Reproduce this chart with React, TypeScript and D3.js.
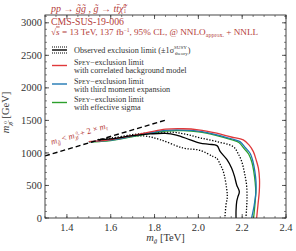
import React from "react";
import * as d3 from "d3";

// exclusion contours, [m_gluino (TeV), m_neutralino (GeV)]
const observed: [number, number][] = [
  [1.54, 1200], [1.6, 1215], [1.7, 1265], [1.78, 1292], [1.85, 1302], [1.9, 1275],
  [1.96, 1205], [2.008, 1150], [2.05, 1133], [2.085, 1112], [2.1, 1020], [2.13, 900],
  [2.152, 765], [2.165, 640], [2.175, 508], [2.187, 405], [2.18, 320], [2.175, 251],
  [2.172, 120], [2.172, 0],
];
const observedUp: [number, number][] = [
  [1.54, 1205], [1.6, 1228], [1.7, 1282], [1.78, 1310], [1.886, 1318], [1.95, 1282],
  [2.008, 1232], [2.084, 1174], [2.159, 1097], [2.18, 1000], [2.198, 866], [2.21, 700],
  [2.22, 508], [2.222, 300], [2.22, 149], [2.217, 0],
];
const observedDown: [number, number][] = [
  [1.55, 1190], [1.65, 1232], [1.75, 1262], [1.825, 1205], [1.931, 1075], [2.008, 1040],
  [2.068, 943], [2.084, 918], [2.1, 820], [2.114, 712], [2.129, 457], [2.132, 320],
  [2.126, 200], [2.121, 0],
];
const speyCorrelated: [number, number][] = [
  [1.5, 1174], [1.55, 1185], [1.6, 1205], [1.7, 1265], [1.78, 1322], [1.85, 1365],
  [1.93, 1372], [2.0, 1356], [2.084, 1303], [2.15, 1245], [2.205, 1200], [2.232, 1120],
  [2.251, 1020], [2.265, 880], [2.274, 765], [2.279, 600], [2.278, 405], [2.272, 200],
  [2.266, 0],
];
const speyThirdMoment: [number, number][] = [
  [1.5, 1172], [1.55, 1180], [1.6, 1196], [1.7, 1258], [1.78, 1308], [1.85, 1347],
  [1.93, 1352], [2.0, 1336], [2.08, 1283], [2.15, 1218], [2.19, 1174], [2.215, 1080],
  [2.236, 995], [2.25, 860], [2.258, 712], [2.263, 560], [2.263, 405], [2.255, 200],
  [2.243, 0],
];
const speyEffSigma: [number, number][] = [
  [1.5, 1170], [1.55, 1176], [1.6, 1190], [1.7, 1250], [1.78, 1300], [1.85, 1337],
  [1.93, 1342], [2.0, 1324], [2.08, 1270], [2.15, 1203], [2.185, 1160], [2.21, 1062],
  [2.23, 980], [2.245, 850], [2.253, 712], [2.259, 560], [2.262, 405], [2.258, 200],
  [2.252, 0],
];
// kinematic limit m_gluino = m_neutralino + 2 m_top
const kinematicMg = [1.3, 1.85];
const topMass = 173;

const xTicks = [1.4, 1.6, 1.8, 2.0, 2.2, 2.4];
const yTicks = [0, 500, 1000, 1500, 2000, 2500, 3000];

const W = 296;
const H = 251;
const margin = { top: 15, right: 10, bottom: 33, left: 45 };
const red = "#b5403a";
const font = "'Liberation Serif', 'DejaVu Serif', serif";

export default function App() {
  const iw = W - margin.left - margin.right;
  const ih = H - margin.top - margin.bottom;

  const x = d3.scaleLinear().domain([1.3, 2.4]).range([0, iw]);
  const y = d3.scaleLinear().domain([0, 3120]).range([ih, 0]);

  const line = d3
    .line<[number, number]>()
    .x((d) => x(d[0]))
    .y((d) => y(d[1]))
    .curve(d3.curveCatmullRom.alpha(0.5));

  const kin: [number, number][] = kinematicMg.map((m) => [m, m * 1000 - 2 * topMass]);
  const xMinor = d3.range(1.3, 2.4001, 0.05);
  const yMinor = d3.range(0, 3120, 100);

  const angle = (Math.atan2(y(0) - y(1000), x(2.3) - x(1.3)) * 180) / Math.PI;

  const curves = [
    { data: observedUp, color: "#000", dash: "1.3,1.6" },
    { data: observedDown, color: "#000", dash: "1.3,1.6" },
    { data: speyEffSigma, color: "#2ca02c", dash: null },
    { data: speyThirdMoment, color: "#1f77b4", dash: null },
    { data: speyCorrelated, color: "#e0393b", dash: null },
    { data: observed, color: "#000", dash: null },
  ];

  // legend rows: handle y (page coords)
  const legend = [
    { color: "#e0393b", y: 65.5, l2: "with correlated background model" },
    { color: "#1f77b4", y: 84, l2: "with third moment expansion" },
    { color: "#2ca02c", y: 102.5, l2: "with effective sigma" },
  ];

  const lx = 7; // legend handle x, relative to plot
  const tx = 29; // legend text x
  const lf = 8.2;

  return (
    <svg
      width={W}
      height={H}
      style={{ position: "absolute", left: 0, top: 0, background: "#fff" }}
      fontFamily={font}
    >
      <text x={51} y={11.5} fill={red} fontSize={10} fontStyle="italic">
        pp<tspan fontStyle="normal">{"  →  "}</tspan>g̃g̃<tspan fontStyle="normal">{" ,  "}</tspan>g̃
        <tspan fontStyle="normal">{"  →  "}</tspan>tt̄χ̃
        <tspan fontSize={5.5} fontStyle="normal" dy={-4}>0</tspan>
        <tspan fontSize={5.5} fontStyle="normal" dx={-2.8} dy={5.5}>1</tspan>
      </text>
      <g transform={`translate(${margin.left},${margin.top})`}>
        <defs>
          <clipPath id="plot">
            <rect width={iw} height={ih} />
          </clipPath>
        </defs>
        <g clipPath="url(#plot)">
          {curves.map((c, i) => (
            <path
              key={i}
              d={line(c.data) ?? ""}
              fill="none"
              stroke={c.color}
              strokeWidth={1.3}
              strokeDasharray={c.dash ?? undefined}
            />
          ))}
          <path
            d={d3.line()(kin.map((d) => [x(d[0]), y(d[1])]) as [number, number][]) ?? ""}
            stroke="#000"
            strokeWidth={1.4}
            strokeDasharray="5,3"
            fill="none"
          />
        </g>
        <text
          transform={`translate(${x(1.331)},${y(1125)}) rotate(${-angle})`}
          fill={red}
          fontSize={8.5}
          fontStyle="italic"
        >
          m<tspan fontSize={6} dy={1.8}>g̃</tspan>
          <tspan dy={-1.8} fontStyle="normal">{" < "}</tspan>m
          <tspan fontSize={6} dy={1.8}>χ̃</tspan>
          <tspan fontSize={4.5} dy={-4.5} dx={-1}>0</tspan>
          <tspan fontSize={4.5} dy={4.5} dx={-2.2}>1</tspan>
          <tspan dy={-1.8} fontStyle="normal">{" + 2 × "}</tspan>m
          <tspan fontSize={6} dy={1.8}>t</tspan>
        </text>

        {/* frame and ticks */}
        <rect width={iw} height={ih} fill="none" stroke="#333" strokeWidth={0.9} />
        {xMinor.map((v, i) => (
          <g key={"xm" + i}>
            <line x1={x(v)} x2={x(v)} y1={ih} y2={ih - 2} stroke="#333" strokeWidth={0.6} />
            <line x1={x(v)} x2={x(v)} y1={0} y2={2} stroke="#333" strokeWidth={0.6} />
          </g>
        ))}
        {yMinor.map((v, i) => (
          <g key={"ym" + i}>
            <line x1={0} x2={2} y1={y(v)} y2={y(v)} stroke="#333" strokeWidth={0.6} />
            <line x1={iw} x2={iw - 2} y1={y(v)} y2={y(v)} stroke="#333" strokeWidth={0.6} />
          </g>
        ))}
        {xTicks.map((v) => (
          <g key={"x" + v}>
            <line x1={x(v)} x2={x(v)} y1={ih} y2={ih - 4} stroke="#333" strokeWidth={0.8} />
            <line x1={x(v)} x2={x(v)} y1={0} y2={4} stroke="#333" strokeWidth={0.8} />
            <text x={x(v)} y={ih + 13} textAnchor="middle" fontSize={10.5} fill="#333">
              {v.toFixed(1)}
            </text>
          </g>
        ))}
        {yTicks.map((v) => (
          <g key={"y" + v}>
            <line x1={0} x2={4} y1={y(v)} y2={y(v)} stroke="#333" strokeWidth={0.8} />
            <line x1={iw} x2={iw - 4} y1={y(v)} y2={y(v)} stroke="#333" strokeWidth={0.8} />
            <text x={-3} y={y(v) + 3.6} textAnchor="end" fontSize={10.5} fill="#333">
              {v}
            </text>
          </g>
        ))}

        {/* text in the plot */}
        <text x={6} y={24.5 - margin.top} fill={red} fontSize={9.8}>CMS-SUS-19-006</text>
        <text x={6} y={34.5 - margin.top} fill={red} fontSize={9.2}>
          √<tspan fontStyle="italic" textDecoration="overline">s</tspan> = 13 TeV,  137 fb
          <tspan fontSize={5.5} dy={-3}>−1</tspan>
          <tspan dy={3}>,  95% CL,  @ NNLO</tspan>
          <tspan fontSize={6} dy={2}>approx.</tspan>
          <tspan dy={-2}> + NNLL</tspan>
        </text>

        {/* legend */}
        <line x1={lx} x2={lx + 15} y1={47 - margin.top} y2={47 - margin.top} stroke="#000" strokeWidth={1.1} strokeDasharray="1,1" />
        <line x1={lx} x2={lx + 15} y1={50 - margin.top} y2={50 - margin.top} stroke="#000" strokeWidth={1.4} />
        <line x1={lx} x2={lx + 15} y1={53 - margin.top} y2={53 - margin.top} stroke="#000" strokeWidth={1.1} strokeDasharray="1,1" />
        <text x={tx} y={52.5 - margin.top} fontSize={lf} fill="#333">
          Observed exclusion limit (±1σ
          <tspan fontSize={5} dy={-3.5}>SUSY</tspan>
          <tspan fontSize={5} dx={-12} dy={6}>theory</tspan>
          <tspan dy={-2.5}>)</tspan>
        </text>
        {legend.map((d) => (
          <g key={d.color}>
            <line
              x1={lx}
              x2={lx + 15}
              y1={d.y - margin.top}
              y2={d.y - margin.top}
              stroke={d.color}
              strokeWidth={1.4}
            />
            <text x={tx} y={d.y - margin.top - 0.5} fontSize={lf} fill="#333">
              S<tspan fontSize={6.2}>PEY</tspan>−exclusion limit
            </text>
            <text x={tx} y={d.y - margin.top + 7.8} fontSize={lf} fill="#333">
              {d.l2}
            </text>
          </g>
        ))}

        {/* axis titles */}
        <text x={iw / 2} y={ih + 23} textAnchor="middle" fontSize={10.5} fill="#333">
          <tspan fontStyle="italic">m</tspan>
          <tspan fontSize={7} fontStyle="italic" dy={2}>g̃</tspan>
          <tspan dy={-2}> [TeV]</tspan>
        </text>
        <text
          transform={`translate(${-36},${ih / 2 - 4}) rotate(-90)`}
          textAnchor="middle"
          fontSize={10.5}
          fill="#333"
        >
          <tspan fontStyle="italic">m</tspan>
          <tspan fontSize={7} fontStyle="italic" dy={2.5}>χ̃</tspan>
          <tspan fontSize={5} dy={-4.5} dx={-1}>0</tspan>
          <tspan fontSize={5} dy={5} dx={-2.5}>1</tspan>
          <tspan dy={-3}> [GeV]</tspan>
        </text>
      </g>
    </svg>
  );
}
